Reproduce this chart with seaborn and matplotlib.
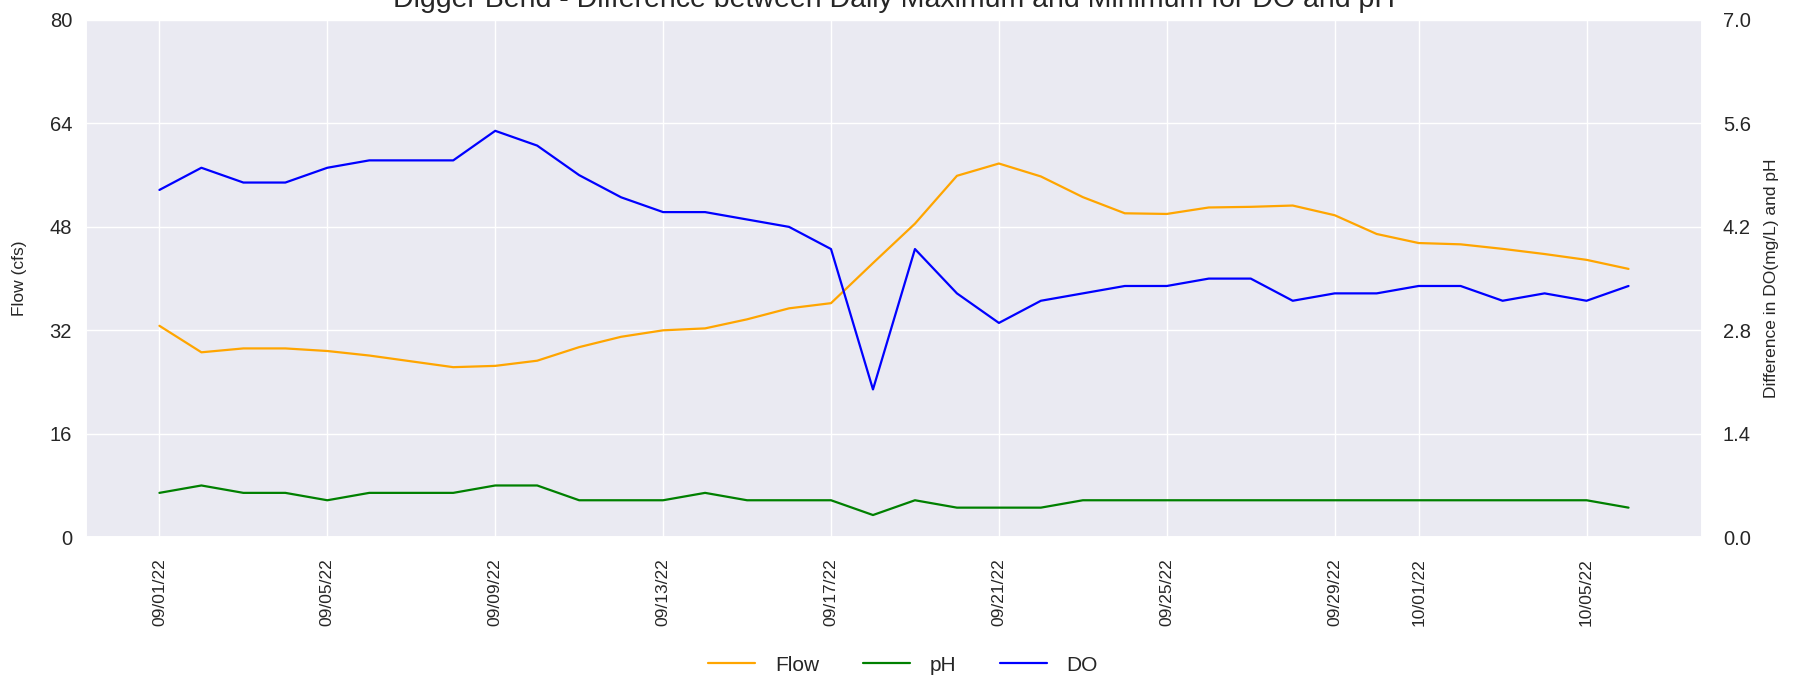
import numpy as np
import matplotlib
matplotlib.use('Agg')
import matplotlib.pyplot as plt
import matplotlib.dates as mdates
import pandas as pd
import seaborn as sns

# daily values, 09/01/22 .. 10/06/22
start_date = '2022-09-01'
end_date = '2022-10-06'

flow = [32.7, 28.6, 29.2, 29.2, 28.8, 28.1, 27.2, 26.3, 26.5, 27.3,
        29.4, 31.0, 32.0, 32.3, 33.7, 35.4, 36.2, 42.4, 48.5, 55.9,
        57.8, 55.8, 52.6, 50.1, 50.0, 51.0, 51.1, 51.3, 49.8, 46.9,
        45.5, 45.3, 44.6, 43.8, 42.9, 41.5]

ph = [0.6, 0.7, 0.6, 0.6, 0.5, 0.6, 0.6, 0.6, 0.7, 0.7,
      0.5, 0.5, 0.5, 0.6, 0.5, 0.5, 0.5, 0.3, 0.5, 0.4,
      0.4, 0.4, 0.5, 0.5, 0.5, 0.5, 0.5, 0.5, 0.5, 0.5,
      0.5, 0.5, 0.5, 0.5, 0.5, 0.4]

do = [4.7, 5.0, 4.8, 4.8, 5.0, 5.1, 5.1, 5.1, 5.5, 5.3,
      4.9, 4.6, 4.4, 4.4, 4.3, 4.2, 3.9, 2.0, 3.9, 3.3,
      2.9, 3.2, 3.3, 3.4, 3.4, 3.5, 3.5, 3.2, 3.3, 3.3,
      3.4, 3.4, 3.2, 3.3, 3.2, 3.4]

dates = pd.date_range(start_date, end_date, freq='D')
df = pd.DataFrame({'date': dates, 'Flow': flow, 'pH': ph, 'DO': do})

sns.set_theme(style='darkgrid')
plt.rcParams['font.family'] = ['Liberation Sans', 'DejaVu Sans']

fig, ax = plt.subplots(figsize=(18.06, 6.8), dpi=100)
fig.subplots_adjust(left=0.0476, right=0.9424, bottom=0.21, top=0.9706)
ax2 = ax.twinx()

sns.lineplot(data=df, x='date', y='Flow', ax=ax, color='orange', label='Flow', linewidth=1.6)
sns.lineplot(data=df, x='date', y='pH', ax=ax2, color='green', label='pH', linewidth=1.6)
sns.lineplot(data=df, x='date', y='DO', ax=ax2, color='blue', label='DO', linewidth=1.6)

ax.set_ylim(0, 80)
ax.set_yticks(np.linspace(0, 80, 6))
ax2.set_ylim(0, 7)
ax2.set_yticks(np.linspace(0, 7, 6))
ax2.yaxis.set_major_formatter(matplotlib.ticker.FormatStrFormatter('%.1f'))
ax2.grid(False)

ax.xaxis.set_major_locator(mdates.DayLocator(bymonthday=range(1, 32, 4)))
ax.xaxis.set_major_formatter(mdates.DateFormatter('%m/%d/%y'))
ax.tick_params(axis='x', labelrotation=90, labelsize=12.5, pad=15, length=0)
ax.tick_params(axis='y', labelsize=14.5, pad=10, length=0)
ax2.tick_params(axis='y', labelsize=14.5, pad=15, length=0)

ax.set_xlabel('')
ax.set_ylabel('Flow (cfs)', fontsize=12.5)
ax2.set_ylabel('Difference in DO(mg/L) and pH', fontsize=12.5)
ax.yaxis.set_label_coords(-0.0365, 0.5)
ax2.yaxis.set_label_coords(1.0384, 0.5)

ax.set_title('Digger Bend - Difference between Daily Maximum and Minimum for DO and pH',
             fontsize=20.5, pad=9)

# one legend for both axes, under the plot
h1, l1 = ax.get_legend_handles_labels()
h2, l2 = ax2.get_legend_handles_labels()
ax.get_legend().remove()
ax2.get_legend().remove()
fig.legend(h1 + h2, l1 + l2, loc='center', bbox_to_anchor=(0.5, 0.022), ncol=3,
           frameon=False, fontsize=15, handlelength=2.26, columnspacing=2.1,
           handletextpad=0.94)

fig.savefig('out.png', dpi=100)
